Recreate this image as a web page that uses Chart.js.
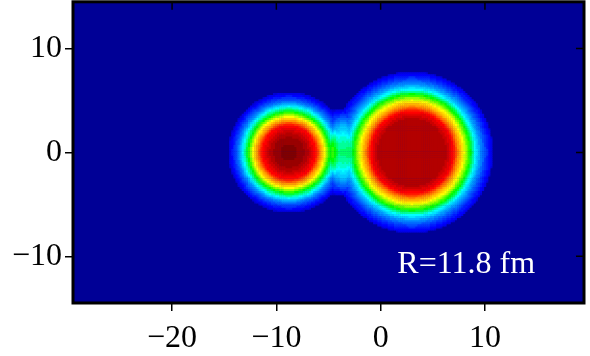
<!DOCTYPE html>
<html><head><meta charset="utf-8">
<script src="https://cdn.jsdelivr.net/npm/chart.js@4"></script>
<style>html,body{margin:0;padding:0;background:#fff}#c{display:block}</style>
</head><body>
<canvas id="c" width="590" height="356"></canvas>
<script>
// ---- data ----
const xTicks = [-20, -10, 0, 10];
const xTickLabels = ['\u221220', '\u221210', '0', '10'];
const yTicks = [-10, 0, 10];
const yTickLabels = ['\u221210', '0', '10'];
const xRange = [-29.5, 19.5];
const yRange = [-14.5, 14.5];
// nucleus centres (fm)
const nucleusCenterX = [-8.8, 3.0];
const nucleusCenterY = [0, 0];
// radial density profiles (normalised colour value) read along y = 0
const leftRadius  = [0, 0.67, 1.34, 1.92, 2.59, 2.92, 3.40, 3.88, 4.36, 4.79, 5.27, 5.75, 6.04];
const leftValue   = [1.0, 0.99, 0.97, 0.93, 0.86, 0.75, 0.625, 0.5, 0.375, 0.25, 0.16, 0.08, 0];
const rightRadius = [0, 3.26, 3.93, 4.36, 4.94, 5.56, 6.04, 6.52, 7.0, 7.67, 7.9];
const rightValue  = [0.9375, 0.9375, 0.875, 0.75, 0.625, 0.5, 0.375, 0.27, 0.19, 0.1, 0];
// neck between the two nuclei: position, vertical profile, horizontal half width
const neckX = -3.6;
const neckRadius = [0, 1.34, 2.30, 3.07, 3.74, 4.1, 4.4];
const neckValue  = [0.45, 0.40, 0.33, 0.24, 0.15, 0.08, 0];
const neckHalfWidth = 3.0;
const lowestLevel = 0.07;
const colorLevels = 40;
const annotationText = 'R=11.8 fm';
const annotationPos = [1.6, -11.6];

// ---- colour map (rainbow / jet-like) ----
const cmapStops = [0, 0.125, 0.375, 0.5, 0.625, 0.875, 1];
const cmapColors = [[0,0,150],[0,0,255],[0,255,255],[0,255,0],[255,255,0],[255,0,0],[128,0,0]];
function cmap(v){
  v = Math.max(0, Math.min(1, v));
  for (let i = 1; i < cmapStops.length; i++) {
    if (v <= cmapStops[i]) {
      const t = (v - cmapStops[i-1]) / (cmapStops[i] - cmapStops[i-1]);
      const a = cmapColors[i-1], b = cmapColors[i];
      return 'rgb(' + a.map((c,k)=>Math.round(c + (b[k]-c)*t)).join(',') + ')';
    }
  }
  return 'rgb(128,0,0)';
}
function profile(rs, vs, r){
  if (r >= rs[rs.length-1]) return 0;
  for (let i = 1; i < rs.length; i++) {
    if (r <= rs[i]) {
      const t = (r - rs[i-1]) / (rs[i] - rs[i-1]);
      return vs[i-1] + (vs[i]-vs[i-1])*t;
    }
  }
  return 0;
}

// ---- grid of cells built from the profiles ----
const cellStep = 0.2;
const cells = [], cellColors = [];
for (let x = -16; x <= 12; x += cellStep) {
  for (let y = -9; y <= 9; y += cellStep) {
    const dl = Math.hypot(x - nucleusCenterX[0], y - nucleusCenterY[0]);
    const dr = Math.hypot(x - nucleusCenterX[1], y - nucleusCenterY[1]);
    let v = profile(leftRadius, leftValue, dl) + profile(rightRadius, rightValue, dr);
    const dn = Math.abs(x - neckX);
    if (dn < neckHalfWidth) {
      const f = Math.cos(Math.PI / 2 * dn / neckHalfWidth) ** 2;
      v = Math.max(v, f * profile(neckRadius, neckValue, Math.abs(y)));
    }
    v = Math.min(1, v);
    if (v < lowestLevel) continue;
    const q = Math.round(v * colorLevels) / colorLevels;
    cells.push({x: +x.toFixed(3), y: +y.toFixed(3), q});
  }
}
cells.sort((a,b)=>a.q-b.q);
cells.forEach(c=>cellColors.push(cmap(c.q)));

const serif = "'Liberation Serif', 'Times New Roman', serif";

const framePlugin = {
  id: 'frame',
  beforeDatasetsDraw(chart){
    const {ctx, chartArea:a} = chart;
    ctx.save();
    ctx.fillStyle = cmap(0);
    ctx.fillRect(a.left, a.top, a.right - a.left, a.bottom - a.top);
    ctx.restore();
  },
  afterDraw(chart){
    const {ctx, chartArea:a, scales} = chart;
    ctx.save();
    // annotation
    ctx.fillStyle = '#fff';
    ctx.font = '32px ' + serif;
    ctx.textAlign = 'left';
    ctx.textBaseline = 'alphabetic';
    ctx.fillText(annotationText, scales.x.getPixelForValue(annotationPos[0]), scales.y.getPixelForValue(annotationPos[1]));
    // inward mirror ticks
    ctx.strokeStyle = '#000';
    ctx.lineWidth = 1.5;
    ctx.beginPath();
    xTicks.forEach(v=>{const p = scales.x.getPixelForValue(v); ctx.moveTo(p, a.top); ctx.lineTo(p, a.top + 8);});
    yTicks.forEach(v=>{const p = scales.y.getPixelForValue(v); ctx.moveTo(a.right, p); ctx.lineTo(a.right - 8, p);});
    ctx.stroke();
    // frame
    ctx.lineWidth = 3;
    ctx.strokeRect(a.left, a.top, a.right - a.left, a.bottom - a.top);
    ctx.restore();
  }
};

new Chart(document.getElementById('c'), {
  type: 'scatter',
  data: { datasets: [{
    data: cells,
    backgroundColor: cellColors,
    pointStyle: 'rect',
    pointRadius: 1.8,
    pointBorderWidth: 0,
    pointHoverRadius: 1.8
  }]},
  options: {
    responsive: false,
    animation: false,
    events: [],
    layout: { padding: { top: 1, right: 6, left: 0, bottom: 0 } },
    plugins: { legend: {display:false}, tooltip: {enabled:false} },
    scales: {
      x: {
        type: 'linear', min: xRange[0], max: xRange[1],
        afterBuildTicks: s => { s.ticks = xTicks.map(v=>({value:v})); },
        afterFit: s => { s.height = 53; s.paddingLeft = 0; s.paddingRight = 0; },
        ticks: { callback: v => xTickLabels[xTicks.indexOf(v)], font: {family: serif, size: 32}, color: '#000', padding: 8, maxRotation: 0, autoSkip: false },
        grid: { drawOnChartArea: false, drawTicks: true, tickLength: 8, color: '#000', lineWidth: 1.5 },
        border: { display: false }
      },
      y: {
        type: 'linear', min: yRange[0], max: yRange[1],
        afterBuildTicks: s => { s.ticks = yTicks.map(v=>({value:v})); },
        afterFit: s => { s.width = 73; s.paddingTop = 0; s.paddingBottom = 0; },
        ticks: { callback: v => yTickLabels[yTicks.indexOf(v)], font: {family: serif, size: 32}, color: '#000', padding: 3, autoSkip: false },
        grid: { drawOnChartArea: false, drawTicks: true, tickLength: 8, color: '#000', lineWidth: 1.5 },
        border: { display: false }
      }
    }
  },
  plugins: [framePlugin]
});
</script>
</body></html>
